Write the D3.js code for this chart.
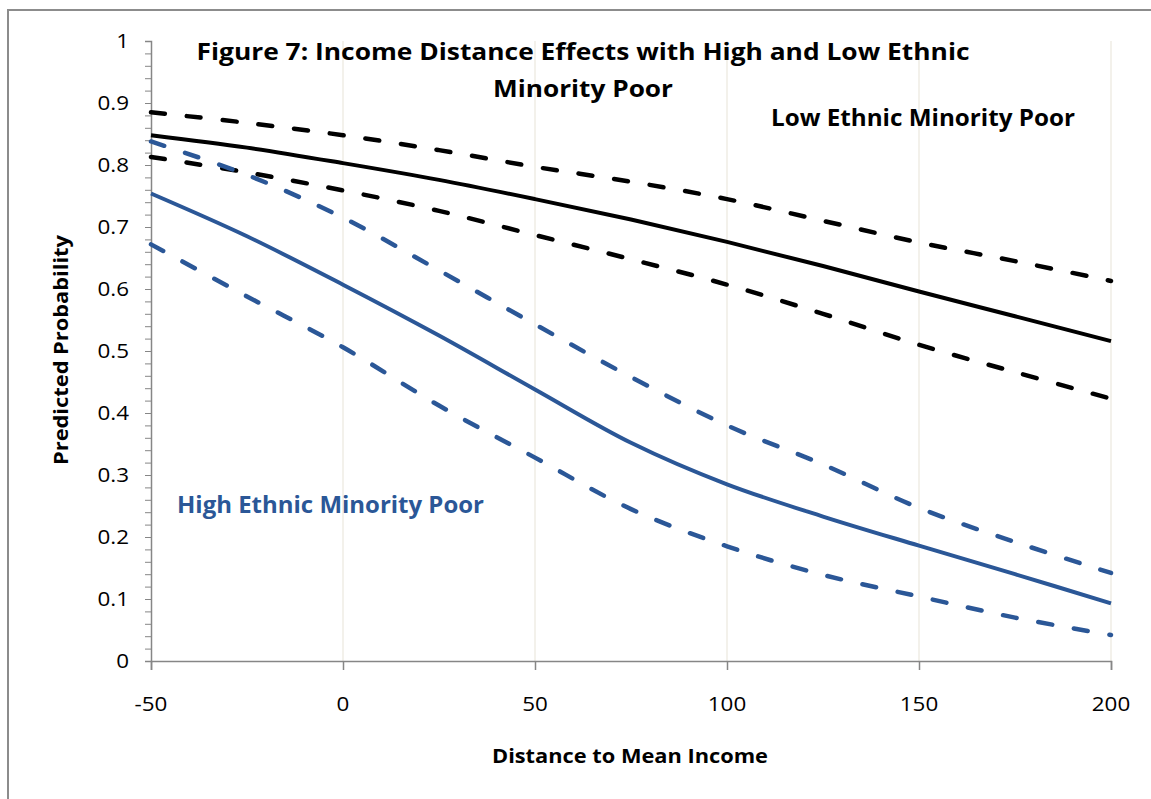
<!DOCTYPE html>
<html>
<head>
<meta charset="utf-8">
<script src="https://cdn.jsdelivr.net/npm/d3@7"></script>
<style>
  html, body { margin: 0; padding: 0; background: #fff; }
  svg { display: block; }
  text { font-family: "Open Sans", Lato, sans-serif; }
</style>
</head>
<body>
<svg id="chart" width="1151" height="799"></svg>
<script>
// Distance to mean income (x) and predicted probabilities
const distance = [-50, -25, 0, 25, 50, 75, 100, 125, 150, 175, 200];

const lowPoor      = [0.848, 0.828, 0.803, 0.776, 0.745, 0.712, 0.676, 0.637, 0.596, 0.556, 0.516];
const lowPoorUpper = [0.885, 0.868, 0.848, 0.824, 0.797, 0.773, 0.745, 0.710, 0.675, 0.645, 0.613];
const lowPoorLower = [0.813, 0.788, 0.759, 0.726, 0.687, 0.648, 0.607, 0.560, 0.510, 0.466, 0.423];

const highPoor      = [0.754, 0.685, 0.607, 0.525, 0.438, 0.352, 0.285, 0.233, 0.186, 0.140, 0.093];
const highPoorUpper = [0.838, 0.784, 0.715, 0.630, 0.543, 0.458, 0.380, 0.317, 0.247, 0.192, 0.142];
const highPoorLower = [0.672, 0.588, 0.506, 0.412, 0.328, 0.245, 0.185, 0.139, 0.104, 0.070, 0.042];

const xTicks = [-50, 0, 50, 100, 150, 200];
const yTicks = [0, 0.1, 0.2, 0.3, 0.4, 0.5, 0.6, 0.7, 0.8, 0.9, 1];

const BLACK = "#000000";
const BLUE = "#2b5797";

const svg = d3.select("#chart");

// outer frame
svg.append("path")
  .attr("d", "M8,820 V10 H1170")
  .attr("fill", "none")
  .attr("stroke", "#8c8c8c")
  .attr("stroke-width", 2);

const x = d3.scaleLinear().domain([-50, 200]).range([151, 1111]);
const y = d3.scaleLinear().domain([0, 1]).range([661, 41]);

// vertical gridlines
svg.append("g")
  .selectAll("line")
  .data(xTicks.filter(d => d !== -50))
  .join("line")
  .attr("x1", d => x(d)).attr("x2", d => x(d))
  .attr("y1", y(1)).attr("y2", y(0))
  .attr("stroke", "#efece4")
  .attr("stroke-width", 1.5);

// y axis with minor ticks every 0.02
const yAxisG = svg.append("g").attr("transform", `translate(${x(-50)},0)`);
yAxisG.call(d3.axisLeft(y).tickValues(d3.range(0, 51).map(i => i / 50)).tickSize(6).tickFormat(""));
yAxisG.select(".domain").attr("stroke", "#868686").attr("stroke-width", 1.5);
yAxisG.selectAll(".tick line").attr("stroke", "#868686").attr("stroke-width", 1);

// stretch a label horizontally to a given width
function fit(sel, w) {
  sel.attr("textLength", w).attr("lengthAdjust", "spacingAndGlyphs");
  return sel;
}

svg.append("g")
  .selectAll("text")
  .data(yTicks)
  .join("text")
  .attr("x", 129)
  .attr("y", d => y(d) + 7)
  .attr("text-anchor", "end")
  .attr("font-size", 20)
  .attr("fill", "#000")
  .text(d => d3.format("")(d))
  .each(function(d) {
    const s = d3.select(this);
    s.attr("textLength", this.getComputedTextLength() * 1.12).attr("lengthAdjust", "spacingAndGlyphs");
  });

// x axis
const xAxisG = svg.append("g").attr("transform", `translate(0,${y(0)})`);
xAxisG.call(d3.axisBottom(x).tickValues(xTicks).tickSize(9).tickFormat(""));
xAxisG.select(".domain").attr("stroke", "#868686").attr("stroke-width", 1.5);
xAxisG.selectAll(".tick line").attr("stroke", "#868686").attr("stroke-width", 1.5);

svg.append("g")
  .selectAll("text")
  .data(xTicks)
  .join("text")
  .attr("x", d => x(d))
  .attr("y", 711)
  .attr("text-anchor", "middle")
  .attr("font-size", 20)
  .attr("fill", "#000")
  .text(d => d)
  .each(function(d) {
    const s = d3.select(this);
    s.attr("textLength", this.getComputedTextLength() * 1.12).attr("lengthAdjust", "spacingAndGlyphs");
  });

// series lines
const line = d3.line()
  .x((d, i) => x(distance[i]))
  .y(d => y(d))
  .curve(d3.curveCatmullRom.alpha(0.5));

const series = [
  { values: lowPoorUpper, color: BLACK, dashed: true },
  { values: lowPoorLower, color: BLACK, dashed: true },
  { values: lowPoor, color: BLACK, dashed: false },
  { values: highPoorUpper, color: BLUE, dashed: true },
  { values: highPoorLower, color: BLUE, dashed: true },
  { values: highPoor, color: BLUE, dashed: false }
];

svg.append("g")
  .selectAll("path")
  .data(series)
  .join("path")
  .attr("d", d => line(d.values))
  .attr("fill", "none")
  .attr("stroke", d => d.color)
  .attr("stroke-width", d => d.dashed ? 4.5 : 4)
  .attr("stroke-linecap", d => d.dashed ? "round" : "butt")
  .attr("stroke-dasharray", d => d.dashed ? "14,22" : null);

// title
fit(svg.append("text")
  .attr("x", 583).attr("y", 60)
  .attr("text-anchor", "middle")
  .attr("font-size", 24).attr("font-weight", "bold")
  .attr("fill", "#000")
  .text("Figure 7: Income Distance Effects with High and Low Ethnic"), 773);

fit(svg.append("text")
  .attr("x", 583).attr("y", 97)
  .attr("text-anchor", "middle")
  .attr("font-size", 24).attr("font-weight", "bold")
  .attr("fill", "#000")
  .text("Minority Poor"), 180);

// series annotations
fit(svg.append("text")
  .attr("x", 771).attr("y", 126)
  .attr("font-size", 23).attr("font-weight", "bold")
  .attr("fill", BLACK)
  .text("Low Ethnic Minority Poor"), 304);

fit(svg.append("text")
  .attr("x", 177).attr("y", 513)
  .attr("font-size", 23).attr("font-weight", "bold")
  .attr("fill", BLUE)
  .text("High Ethnic Minority Poor"), 307);

// axis titles
fit(svg.append("text")
  .attr("x", 630).attr("y", 763)
  .attr("text-anchor", "middle")
  .attr("font-size", 20).attr("font-weight", "bold")
  .attr("fill", "#000")
  .text("Distance to Mean Income"), 276);

fit(svg.append("text")
  .attr("transform", "translate(68,350) rotate(-90)")
  .attr("text-anchor", "middle")
  .attr("font-size", 20).attr("font-weight", "bold")
  .attr("fill", "#000")
  .text("Predicted Probability"), 230);
</script>
</body>
</html>
